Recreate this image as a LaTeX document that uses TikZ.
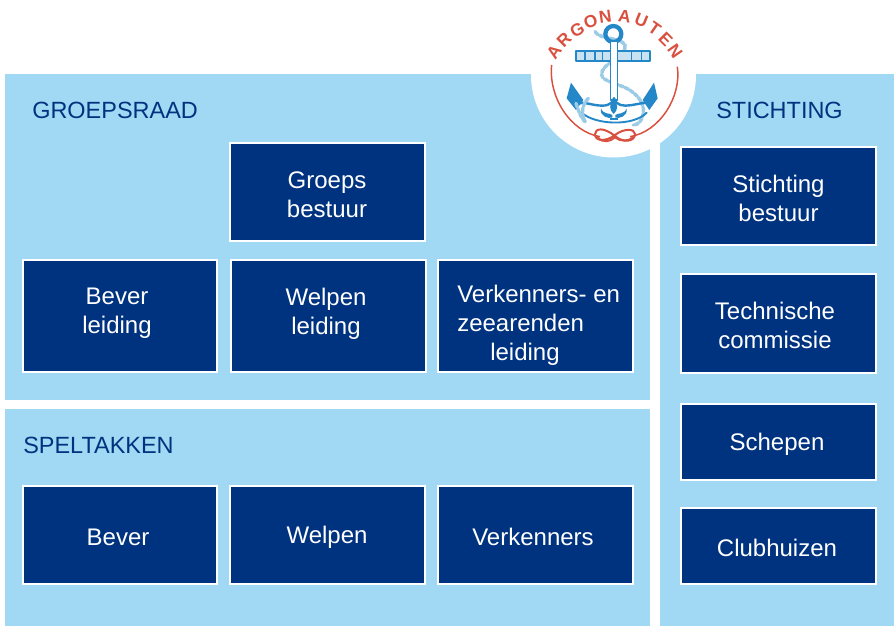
\documentclass[tikz,border=0pt]{standalone}
\usepackage{fontspec}
\setmainfont{Liberation Sans}
\definecolor{panel}{HTML}{A1D9F4}
\definecolor{navy}{HTML}{00337F}
\definecolor{logoblue}{HTML}{2487C8}
\definecolor{logored}{HTML}{D9503F}
\definecolor{ropeblue}{HTML}{9CCBE8}
\tikzset{
  panelbox/.style={fill=panel,draw=none},
  navybox/.style={draw=white,line width=1.6pt,fill=navy,inner sep=0pt,anchor=center},
  navytext/.style={text=white,align=center,font=\fontsize{18}{21.75}\selectfont,inner sep=0pt,anchor=center},
  headtext/.style={text=navy,font=\fontsize{17.6}{21}\selectfont,inner sep=0pt,anchor=base west},
  logoletter/.style={text=logored,font=\fontsize{13}{13}\selectfont\bfseries,inner sep=0pt},
  rope/.style={draw=ropeblue,line width=2.6pt,line cap=round,dash pattern=on 3pt off 1.2pt},
  anchorline/.style={draw=logoblue,line cap=round,line join=round}
}
\newcommand{\navynode}[8]{% name, left, top, right, bottom, text x, text y, text
  \node[navybox,minimum width={(#4-#2-1.8)*0.75pt},minimum height={(#5-#3-1.8)*0.75pt}] (#1) at ({(#2+#4)/2},{(#3+#5)/2}) {};
  \node[navytext] (#1text) at (#6,#7) {#8};}
\begin{document}
\begin{tikzpicture}[x=0.75pt,y=-0.75pt]
\useasboundingbox (0,0) rectangle (894,626);
\fill[white] (0,0) rectangle (894,626);
% panels
\fill[panelbox] (5,74) rectangle (650,400);
\fill[panelbox] (5,409) rectangle (650,626);
\fill[panelbox] (660,74) rectangle (894,626);
% logo disc
\fill[white] (613.5,75) circle[radius=82.5];
% headings
\node[headtext] (hgroep) at (32,118) {GROEPSRAAD};
\node[headtext] (hspel) at (23,453) {SPELTAKKEN};
\node[headtext] (hstich) at (716,118) {STICHTING};
% boxes
\navynode{groeps}{229.5}{142}{425.5}{241.5}{327}{194.5}{Groeps\\bestuur}
\navynode{beverl}{21.7}{259}{217.7}{373}{117}{313.5}{Bever\\leiding}
\navynode{welpenl}{230.5}{259}{426.5}{373}{326}{313.5}{Welpen\\leiding}
\navynode{verkl}{437.5}{259}{633.5}{373}{537}{0}{}
\node[text=white,font=\fontsize{18}{21.75}\selectfont,align=left,inner sep=0pt,anchor=north west] (verkltext) at (457,285) {Verkenners- en\\zeearenden\\\hspace*{24.75pt}leiding};
\navynode{bever}{21.7}{485}{217.7}{584.5}{118}{537}{Bever}
\navynode{welpen}{229.5}{485}{425.5}{584.5}{327}{537}{Welpen\vphantom{l}}
\navynode{verk}{437.5}{485}{633.5}{584.5}{533}{537}{Verkenners}
\navynode{stbest}{680.5}{146.5}{876.5}{245.5}{778.5}{198.5}{Stichting\\bestuur}
\navynode{techn}{680.5}{273.5}{876.5}{373.5}{775}{325.5}{Technische\\commissie}
\navynode{schepen}{680.5}{403.5}{876.5}{480.5}{777}{444.5}{Schepen}
\navynode{club}{680.5}{507.5}{876.5}{584.5}{777}{548}{Clubhuizen}
% logo, in coordinates of the 3x view
\begin{scope}[shift={(520,0)},x=0.25pt,y=-0.25pt]
  % red ring
  \draw[logored,line width=1.1pt] (95,195) .. controls (85,290) and (150,395) .. (240,410);
  \draw[logored,line width=1.1pt] (472,200) .. controls (485,290) and (420,395) .. (330,410);
  % knot
  \draw[logored,line width=1.5pt] (285,408) .. controls (250,380) and (225,385) .. (225,403) .. controls (225,425) and (260,425) .. (285,405) .. controls (310,385) and (345,385) .. (345,402) .. controls (345,425) and (310,430) .. (285,408);
  \draw[logored,line width=1.5pt] (232,412) .. controls (250,430) and (270,425) .. (285,412) .. controls (300,425) and (325,425) .. (340,412);
  % letters
  \foreach \c/\px/\py/\r [count=\i] in {A/102/157/55,R/132/120/45,G/172/90/30,O/212/66/20,N/256/50/8,A/314/48/-8,U/364/62/-22,T/404/86/-35,E/437/118/-45,N/465/155/-55}{
    \node[logoletter,rotate=\r] (letter\i) at (\px,\py) {\c};
  }
  % rope behind
  \draw[rope] (225,95) .. controls (240,120) and (300,110) .. (315,135) .. controls (325,170) and (240,190) .. (245,225) .. controls (250,245) and (290,250) .. (320,265) .. controls (350,280) and (375,310) .. (370,340) .. controls (368,360) and (355,375) .. (340,375);
  % stock
  \draw[anchorline,line width=1.3pt,fill=ropeblue!55] (168,153) rectangle (390,182);
  \draw[anchorline,line width=1pt] (195,153)--(195,182) (225,153)--(225,182) (248,153)--(248,182) (335,153)--(335,182) (365,153)--(365,182);
  % ring
  \draw[anchorline,line width=3.2pt] (280,102) circle[radius=24];
  % shank
  \draw[anchorline,line width=1.1pt,fill=white] (272,125) -- (272,300) -- (292,300) -- (292,125) -- cycle;
  % arms
  \draw[anchorline,line width=1.8pt] (282,295) .. controls (270,340) and (190,300) .. (180,310);
  \draw[anchorline,line width=1.8pt] (282,295) .. controls (295,340) and (370,300) .. (385,310);
  \draw[anchorline,line width=1.4pt] (185,338) .. controls (225,375) and (340,380) .. (380,338);
  % flukes
  \fill[logoblue] (153,248) -- (140,295) -- (168,330) -- (190,300) -- cycle;
  \fill[logoblue] (402,248) -- (413,295) -- (388,330) -- (368,300) -- cycle;
  % fleur de lis
  \fill[logoblue] (281,295) .. controls (266,315) and (268,330) .. (281,342) .. controls (294,330) and (296,315) .. (281,295) -- cycle;
  \fill[logoblue] (243,325) .. controls (250,345) and (270,338) .. (277,345) -- (277,353) .. controls (265,356) and (238,350) .. (243,325) -- cycle;
  \fill[logoblue] (320,325) .. controls (313,345) and (293,338) .. (286,345) -- (286,353) .. controls (297,356) and (324,350) .. (320,325) -- cycle;
  \fill[logoblue] (270,354) rectangle (293,361);
  % rope front
  \draw[rope] (168,310) .. controls (175,330) and (180,350) .. (195,365);
  \draw[rope] (205,295) .. controls (190,310) and (180,335) .. (195,365);
\end{scope}
\end{tikzpicture}
\end{document}
